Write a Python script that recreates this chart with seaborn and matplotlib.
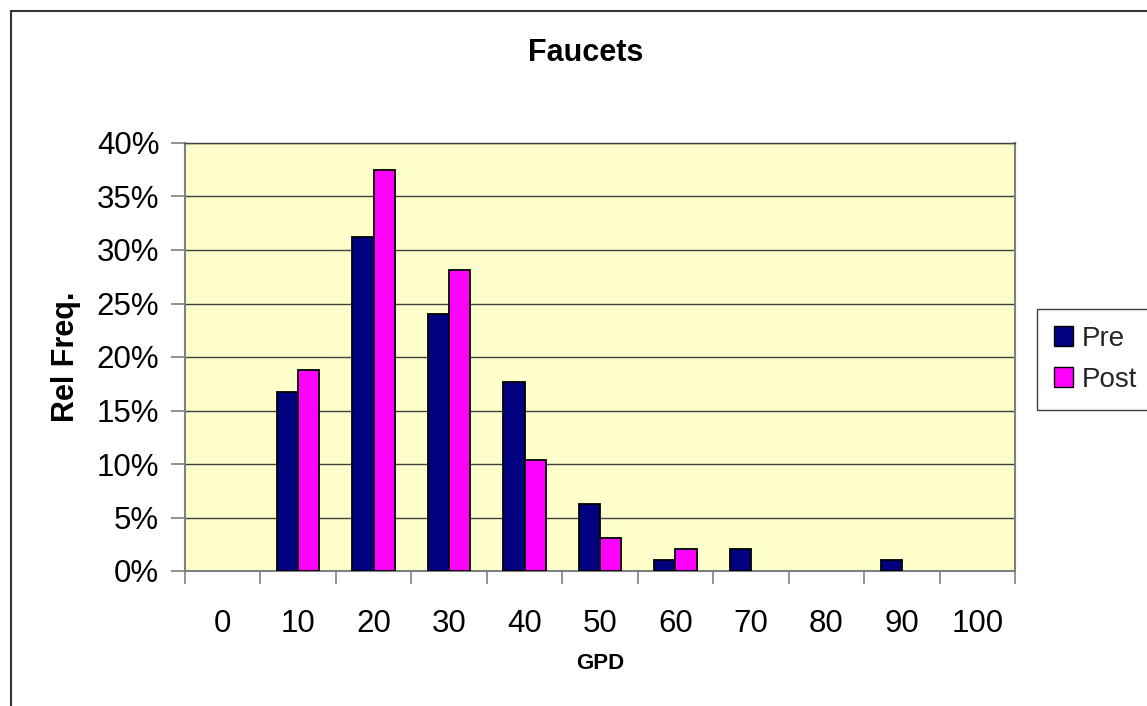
import matplotlib
matplotlib.use("Agg")
import matplotlib.pyplot as plt
import matplotlib.patches as mpatches
from matplotlib.ticker import FixedLocator, FuncFormatter
import seaborn as sns
import pandas as pd

# ---- data ----
categories = ["0", "10", "20", "30", "40", "50", "60", "70", "80", "90", "100"]
pre_values = [0.0, 16.7, 31.25, 24.0, 17.7, 6.25, 1.04, 2.08, 0.0, 1.04, 0.0]
post_values = [0.0, 18.75, 37.5, 28.1, 10.4, 3.13, 2.08, 0.0, 0.0, 0.0, 0.0]
series_names = ["Pre", "Post"]
series_colors = ["#000080", "#FF00FF"]
y_ticks = [0, 5, 10, 15, 20, 25, 30, 35, 40]

df = pd.DataFrame({
    "GPD": categories * 2,
    "value": pre_values + post_values,
    "series": [series_names[0]] * len(categories) + [series_names[1]] * len(categories),
})

sns.set_theme(style="white")
plt.rcParams["font.family"] = ["Liberation Sans", "DejaVu Sans"]

W, H = 1147, 706
fig = plt.figure(figsize=(W / 100, H / 100), dpi=100)
fig.patch.set_facecolor("white")

ax_left, ax_right = 185, 1015
ax_top, ax_bottom = 143, 571
ax = fig.add_axes([ax_left / W, 1 - ax_bottom / H,
                   (ax_right - ax_left) / W, (ax_bottom - ax_top) / H])
ax.set_facecolor("#FFFFCC")

sns.barplot(data=df, x="GPD", y="value", hue="series", order=categories,
            hue_order=series_names, palette=series_colors, width=0.565,
            gap=0, edgecolor="black", linewidth=1.3, saturation=1,
            errorbar=None, ax=ax, zorder=3)

# hide empty bars
for p in ax.patches:
    if p.get_height() == 0:
        p.set_visible(False)

# axes limits / ticks
ax.set_xlim(-0.5, len(categories) - 0.5)
ax.set_ylim(0, 40)
ax.yaxis.set_major_locator(FixedLocator(y_ticks))
ax.yaxis.set_major_formatter(FuncFormatter(lambda v, _: f"{v:.0f}%"))
ax.xaxis.set_minor_locator(FixedLocator([i - 0.5 for i in range(len(categories) + 1)]))
ax.tick_params(axis="x", which="major", length=0, pad=27, labelsize=22.5, labelcolor="black")
ax.tick_params(axis="x", which="minor", length=9, width=1.2, color="#808080", direction="out", bottom=True)
ax.tick_params(axis="y", which="major", length=10, width=1.2, color="#808080", direction="out",
               left=True, pad=8.5, labelsize=22.5, labelcolor="black")

ax.grid(axis="y", color="#404040", linewidth=1.0, zorder=1)
ax.grid(axis="x", visible=False)
ax.set_axisbelow(True)

for side in ["left", "bottom", "right"]:
    ax.spines[side].set_visible(True)
    ax.spines[side].set_color("#808080")
    ax.spines[side].set_linewidth(1.5)
ax.spines["top"].set_visible(True)
ax.spines["top"].set_color("#404040")
ax.spines["top"].set_linewidth(1.0)

ax.set_xlabel("GPD", fontsize=16, fontweight="bold", color="black")
ax.xaxis.set_label_coords(0.5, -0.192)
ax.set_ylabel("Rel Freq.", fontsize=22, fontweight="bold", color="black")
ax.yaxis.set_label_coords(-0.125, 0.5)

fig.suptitle("Faucets", x=586 / W, y=1 - 53 / H, ha="center", va="center",
             fontsize=22, fontweight="bold", color="black")

# legend
handles = [mpatches.Rectangle((0, 0), 1, 1, facecolor=c, edgecolor="black", linewidth=1.0)
           for c in series_colors]
old = ax.get_legend()
if old is not None:
    old.remove()
leg = fig.legend(handles, series_names, loc="upper left",
                 bbox_to_anchor=(1037 / W, 1 - 309 / H), bbox_transform=fig.transFigure,
                 borderaxespad=0, fontsize=20, frameon=True, fancybox=False,
                 shadow=False, framealpha=1, edgecolor="#404040",
                 handlelength=0.7, handleheight=0.7, handletextpad=0.3,
                 borderpad=0.6, labelspacing=0.55)
leg.get_frame().set_linewidth(1.0)

# outer chart frame (extends beyond right/bottom edges)
frame = mpatches.Rectangle((11 / W, -0.2), 2.0, (H - 11) / H + 0.2,
                           transform=fig.transFigure, fill=False,
                           edgecolor="#333333", linewidth=1.5, clip_on=False)
fig.add_artist(frame)

fig.savefig("out.png", dpi=100)
